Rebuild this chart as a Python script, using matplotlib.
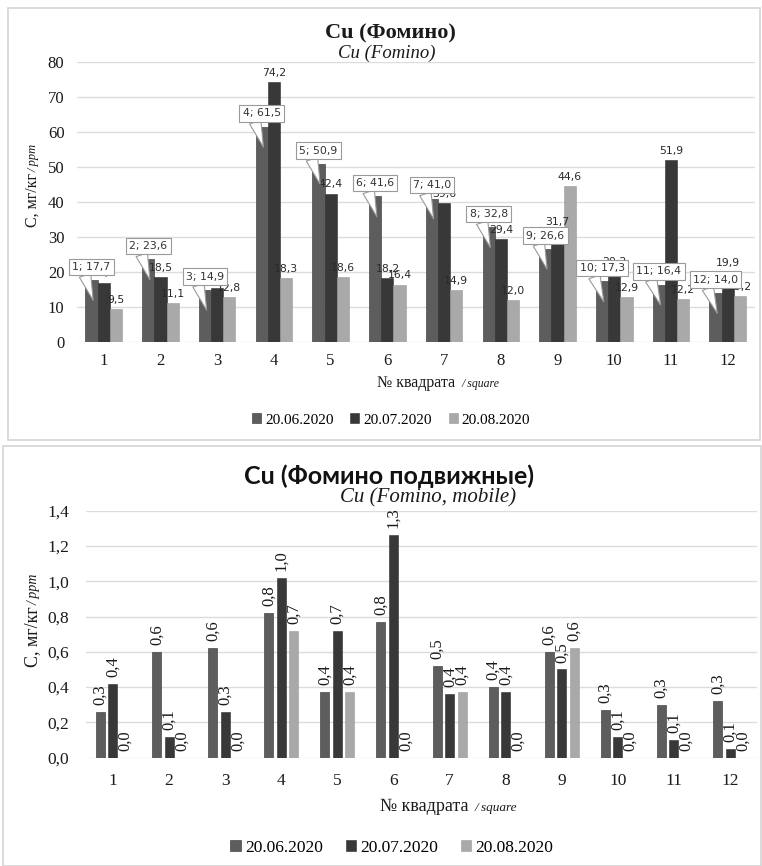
import matplotlib
matplotlib.use("Agg")
import matplotlib.pyplot as plt
import numpy as np
from matplotlib.patches import Rectangle

# ---------------- data ----------------
squares = ["1", "2", "3", "4", "5", "6", "7", "8", "9", "10", "11", "12"]
dates = ["20.06.2020", "20.07.2020", "20.08.2020"]

total_jun = [17.7, 23.6, 14.9, 61.5, 50.9, 41.6, 41.0, 32.8, 26.6, 17.3, 16.4, 14.0]
total_jul = [17.0, 18.5, 15.4, 74.2, 42.4, 18.2, 39.6, 29.4, 31.7, 20.2, 51.9, 19.9]
total_aug = [9.5, 11.1, 12.8, 18.3, 18.6, 16.4, 14.9, 12.0, 44.6, 12.9, 12.2, 13.2]

mobile_jun = [0.26, 0.60, 0.62, 0.82, 0.37, 0.77, 0.52, 0.40, 0.60, 0.27, 0.30, 0.32]
mobile_jul = [0.42, 0.12, 0.26, 1.02, 0.72, 1.26, 0.36, 0.37, 0.50, 0.12, 0.10, 0.05]
mobile_aug = [0.0, 0.0, 0.0, 0.72, 0.37, 0.0, 0.37, 0.0, 0.62, 0.0, 0.0, 0.0]

top_yticks = [0, 10, 20, 30, 40, 50, 60, 70, 80]
bot_yticks = [0.0, 0.2, 0.4, 0.6, 0.8, 1.0, 1.2, 1.4]

colors = ["#5d5d5d", "#383838", "#a9a9a9"]
SERIF = "Liberation Serif"
SANS = "DejaVu Sans"

W, H = 762, 866
fig = plt.figure(figsize=(W / 100, H / 100), dpi=100)


def fx(px):
    return px / W


def fy(py):
    return 1 - py / H


def comma(v):
    return ("%.1f" % v).replace(".", ",")


# panel borders
fig.patches.append(Rectangle((fx(8), fy(440)), fx(760) - fx(8), fy(8) - fy(440),
                             transform=fig.transFigure, fill=False, ec="#d4d4d4", lw=1.2))
fig.patches.append(Rectangle((fx(3), fy(866)), fx(761) - fx(3), fy(446) - fy(866),
                             transform=fig.transFigure, fill=False, ec="#d4d4d4", lw=1.2))

x = np.arange(len(squares))


def ylabel_pair(xpx, bottom_px, size_main, size_it):
    t = fig.text(fx(xpx), fy(bottom_px), "С, мг/кг", rotation=90, ha="center", va="bottom",
                 fontsize=size_main, family=SERIF, color="#1a1a1a")
    fig.canvas.draw()
    bb = t.get_window_extent()
    fig.text(fx(xpx + 1), (bb.y1 + 1) / H, "/ ppm", rotation=90, ha="center", va="bottom",
             fontsize=size_it, style="italic", family=SERIF, color="#1a1a1a")


def xlabel_pair(left_px, base_px, size_main, size_it):
    t = fig.text(fx(left_px), fy(base_px), "№ квадрата", ha="left", va="baseline",
                 fontsize=size_main, family=SERIF, color="#1a1a1a")
    fig.canvas.draw()
    bb = t.get_window_extent()
    fig.text((bb.x1 + 6) / W, fy(base_px), "/ square", ha="left", va="baseline",
             fontsize=size_it, style="italic", family=SERIF, color="#1a1a1a")


# ---------------- top chart ----------------
ax1 = fig.add_axes([fx(77), fy(342), fx(755) - fx(77), fy(62) - fy(342)])
w1 = 0.215
series1 = [total_jun, total_jul, total_aug]
for i, (vals, c) in enumerate(zip(series1, colors)):
    ax1.bar(x + (i - 1) * w1, vals, w1, color=c, edgecolor="#2e2e2e" if i < 2 else "#9a9a9a",
            linewidth=0.4, label=dates[i], zorder=3)

ax1.set_xlim(-0.47, 11.48)
ax1.set_ylim(0, 80)
ax1.set_yticks(top_yticks)
ax1.set_yticklabels([str(t) for t in top_yticks])
ax1.set_xticks(x)
ax1.set_xticklabels(squares)
ax1.grid(axis="y", color="#dcdcdc", lw=1.0, zorder=0)
for s in ax1.spines.values():
    s.set_visible(False)
ax1.tick_params(axis="both", length=0, labelsize=12, labelcolor="#1a1a1a")
ax1.tick_params(axis="y", pad=9)
ax1.tick_params(axis="x", pad=8)
for lab in ax1.get_xticklabels() + ax1.get_yticklabels():
    lab.set_fontfamily(SERIF)

# labels for series 2 and 3
for i in (1, 2):
    for xi, v in zip(x, series1[i]):
        ax1.annotate(comma(v), (xi + (i - 1) * w1, v), xytext=(0, 3), textcoords="offset points",
                     ha="center", va="bottom", fontsize=7.8, family=SANS, color="#2a2a2a", zorder=6)
# callouts for series 1
for xi, v, sq in zip(x, series1[0], squares):
    bx = xi - w1
    ax1.annotate("%s; %s" % (sq, comma(v)), xy=(bx + 0.03, v - 5.8), xytext=(bx, v + 3.8),
                 textcoords="data", ha="center", va="center", fontsize=7.8, family=SANS,
                 color="#333333", zorder=7,
                 bbox=dict(boxstyle="square,pad=0.3", fc="white", ec="#9a9a9a", lw=0.8),
                 arrowprops=dict(arrowstyle="wedge,tail_width=1.1,shrink_factor=0.5", fc="white",
                                 ec="#9a9a9a", lw=0.8, relpos=(0.3, 0.0), shrinkA=0, shrinkB=0))

fig.text(fx(390), fy(33), "Cu (Фомино)", ha="center", va="center", fontsize=16,
         fontweight="bold", family=SERIF, color="#1a1a1a")
fig.text(fx(387), fy(53), "Cu (Fomino)", ha="center", va="center", fontsize=13.5,
         style="italic", family=SERIF, color="#1a1a1a")

ylabel_pair(33, 227, 11.5, 9)
xlabel_pair(377, 387, 11.5, 8.5)

ax1.legend(loc="center", bbox_to_anchor=(fx(391), fy(420)), bbox_transform=fig.transFigure,
           ncol=3, frameon=False, handlelength=0.6, handleheight=0.6, handletextpad=0.25,
           columnspacing=1.1, prop={"family": SERIF, "size": 11})

# ---------------- bottom chart ----------------
ax2 = fig.add_axes([fx(86), fy(757.7), fx(757) - fx(86), fy(510.7) - fy(757.7)])
w2 = 0.16
off2 = 0.223
series2 = [mobile_jun, mobile_jul, mobile_aug]
for i, (vals, c) in enumerate(zip(series2, colors)):
    ax2.bar(x + (i - 1) * off2, vals, w2, color=c, edgecolor="#2e2e2e" if i < 2 else "#9a9a9a",
            linewidth=0.4, label=dates[i], zorder=3)
    for xi, v in zip(x, vals):
        ax2.annotate(comma(v), (xi + (i - 1) * off2, v), xytext=(0, 5), textcoords="offset points",
                     ha="center", va="bottom", rotation=90, fontsize=12, family=SERIF,
                     color="#1a1a1a", zorder=6, annotation_clip=False)

ax2.set_xlim(-0.48, 11.48)
ax2.set_ylim(0, 1.4)
ax2.set_yticks(bot_yticks)
ax2.set_yticklabels([comma(t) for t in bot_yticks])
ax2.set_xticks(x)
ax2.set_xticklabels(squares)
ax2.grid(axis="y", color="#dcdcdc", lw=1.0, zorder=0)
for s in ax2.spines.values():
    s.set_visible(False)
ax2.tick_params(axis="both", length=0, labelsize=12.5, labelcolor="#1a1a1a")
ax2.tick_params(axis="y", pad=12)
ax2.tick_params(axis="x", pad=11)
for lab in ax2.get_xticklabels() + ax2.get_yticklabels():
    lab.set_fontfamily(SERIF)

fig.text(fx(389), fy(476), "Cu (Фомино подвижные)", ha="center", va="center", fontsize=18,
         fontweight="bold", family="Lato", color="#111111")
fig.text(fx(428), fy(498), "Cu (Fomino, mobile)", ha="center", va="center", fontsize=15,
         style="italic", family=SERIF, color="#1a1a1a")

ylabel_pair(33, 667, 13, 10)
xlabel_pair(380, 811, 13, 9.5)

ax2.legend(loc="center", bbox_to_anchor=(fx(392), fy(848)), bbox_transform=fig.transFigure,
           ncol=3, frameon=False, handlelength=0.6, handleheight=0.6, handletextpad=0.25,
           columnspacing=1.3, prop={"family": SERIF, "size": 12.5})

fig.savefig("out.png", dpi=100)
